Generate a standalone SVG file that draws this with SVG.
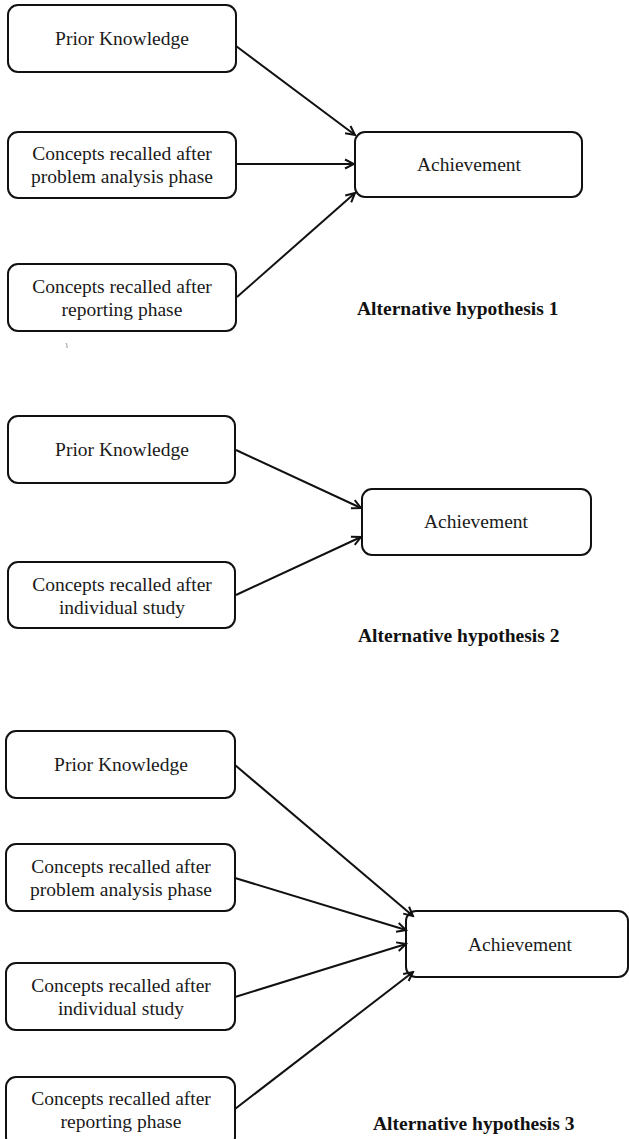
<svg xmlns="http://www.w3.org/2000/svg" width="629" height="1139" viewBox="0 0 629 1139">
<style>
.box{fill:#fff;stroke:#111;stroke-width:2}
.t{font-family:"Liberation Serif","Times New Roman",serif;font-size:19.5px;fill:#1a1a1a;text-anchor:middle}
.cap{font-family:"Liberation Serif","Times New Roman",serif;font-size:19.5px;font-weight:bold;fill:#111}
.c{stroke:#111;stroke-width:2;fill:none;marker-end:url(#ah)}
</style>
<defs>
<marker id="ah" viewBox="0 0 12 12" markerWidth="12" markerHeight="12" refX="10" refY="6" orient="auto" markerUnits="userSpaceOnUse">
<path d="M1,1.5 L10,6 L1,10.5" fill="none" stroke="#111" stroke-width="2" stroke-linejoin="miter"/>
</marker>
</defs>
<rect width="629" height="1139" fill="#fff"/>

<!-- Section 1 -->
<g id="h1-prior"><rect class="box" x="8" y="5" width="228" height="67" rx="10"/><text class="t" x="122" y="45">Prior Knowledge</text></g>
<g id="h1-problem"><rect class="box" x="8" y="132" width="228" height="66" rx="10"/><text class="t" x="122" y="160">Concepts recalled after</text><text class="t" x="122" y="183">problem analysis phase</text></g>
<g id="h1-reporting"><rect class="box" x="8" y="264" width="228" height="67" rx="10"/><text class="t" x="122" y="293">Concepts recalled after</text><text class="t" x="122" y="316">reporting phase</text></g>
<g id="h1-achievement"><rect class="box" x="355" y="132" width="227" height="65" rx="10"/><text class="t" x="469" y="171">Achievement</text></g>
<g id="h1-caption"><text class="cap" x="357" y="315">Alternative hypothesis 1</text></g>
<path d="M66,343 Q67.5,345 67,348" stroke="#999" stroke-width="1" fill="none"/>

<!-- Section 2 -->
<g id="h2-prior"><rect class="box" x="8" y="416" width="227" height="67" rx="10"/><text class="t" x="122" y="456">Prior Knowledge</text></g>
<g id="h2-individual"><rect class="box" x="8" y="562" width="227" height="66" rx="10"/><text class="t" x="122" y="591">Concepts recalled after</text><text class="t" x="122" y="614">individual study</text></g>
<g id="h2-achievement"><rect class="box" x="362" y="489" width="229" height="66" rx="10"/><text class="t" x="476" y="528">Achievement</text></g>
<g id="h2-caption"><text class="cap" x="358" y="642">Alternative hypothesis 2</text></g>

<!-- Section 3 -->
<g id="h3-prior"><rect class="box" x="6" y="731" width="229" height="67" rx="10"/><text class="t" x="121" y="771">Prior Knowledge</text></g>
<g id="h3-problem"><rect class="box" x="6" y="844" width="229" height="67" rx="10"/><text class="t" x="121" y="873">Concepts recalled after</text><text class="t" x="121" y="896">problem analysis phase</text></g>
<g id="h3-individual"><rect class="box" x="6" y="963" width="229" height="67" rx="10"/><text class="t" x="121" y="992">Concepts recalled after</text><text class="t" x="121" y="1015">individual study</text></g>
<g id="h3-reporting"><rect class="box" x="6" y="1077" width="229" height="70" rx="10"/><text class="t" x="121" y="1105">Concepts recalled after</text><text class="t" x="121" y="1128">reporting phase</text></g>
<g id="h3-achievement"><rect class="box" x="406" y="911" width="222" height="66" rx="10"/><text class="t" x="520" y="951">Achievement</text></g>
<g id="h3-caption"><text class="cap" x="373" y="1130">Alternative hypothesis 3</text></g>

<g id="connectors">
<line class="c" x1="236" y1="46" x2="355" y2="135"/>
<line class="c" x1="236" y1="164" x2="354" y2="164"/>
<line class="c" x1="237" y1="297" x2="355" y2="193"/>
<line class="c" x1="236" y1="450" x2="361" y2="508"/>
<line class="c" x1="236" y1="595" x2="361" y2="537"/>
<line class="c" x1="235" y1="765" x2="413" y2="916"/>
<line class="c" x1="235" y1="878" x2="406" y2="930"/>
<line class="c" x1="235" y1="997" x2="406" y2="944"/>
<line class="c" x1="235" y1="1109" x2="413" y2="972"/>
</g>
</svg>
